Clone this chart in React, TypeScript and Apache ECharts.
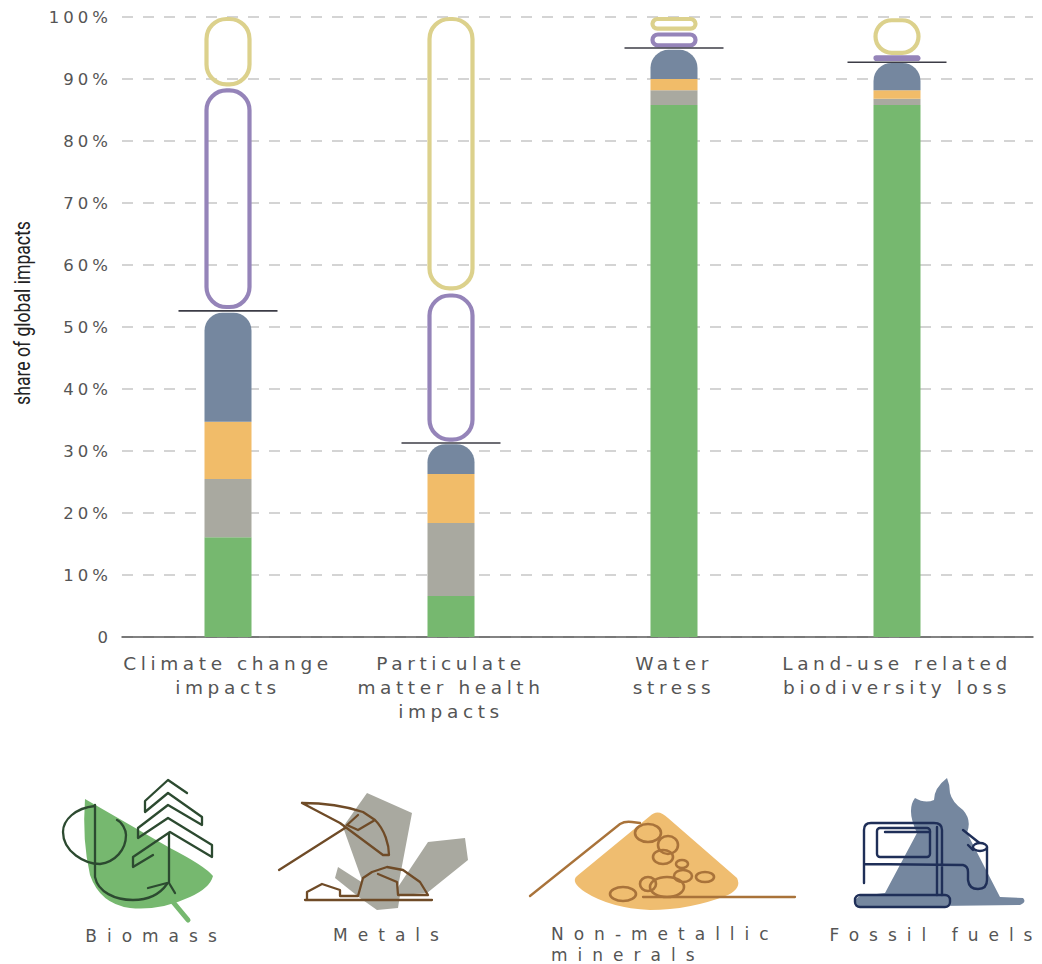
import React, { useEffect, useRef } from "react";
import * as echarts from "echarts";

const categories = [
  "Climate change\nimpacts",
  "Particulate\nmatter health\nimpacts",
  "Water\nstress",
  "Land-use related\nbiodiversity loss",
];
const biomass = [16.1, 6.6, 85.8, 85.8];
const metals = [9.4, 11.8, 2.4, 1.0];
const minerals = [9.2, 7.9, 1.8, 1.4];
const fossil = [17.6, 4.8, 4.7, 4.4];
const totals = [52.6, 31.3, 95.0, 92.7];
const purpleBands = [[52.9, 88.5], [31.5, 55.4], [95.1, 97.5], [92.9, 93.8]];
const yellowBands = [[88.8, 100], [55.9, 100], [97.8, 100], [93.9, 99.8]];

const GREEN = "#76b86f";
const GREY = "#a9a9a0";
const ORANGE = "#f1bc69";
const BLUE = "#75879f";
const PURPLE = "#9584b9";
const YELLOW = "#dcd18c";

const shapes: Record<string, string> = {
  leaf: "M85 799 L170 848 Q205 866 213 876 Q210 888 190 897 Q160 911 130 908 Q100 904 90 875 Q82 840 85 799Z",
  stem: "M173 902 L188 920",
  loop: "M95 806 C75 808 63 820 63 832 C63 852 85 864 100 864 C115 862 126 850 126 835 C126 830 122 822 117 820",
  hook: "M95 805 L95 877 C98 892 115 900 133 900 C148 900 160 894 167 884",
  trunk: "M169 833 L169 883 L175 893 M148 888 L167 883",
  chevrons: "M187 793 L168 780 L145 801 L145 812 L168 793 L202 817 L202 825 L168 805 L138 828 L138 838 L168 818 L212 845 L212 857 L170 832 L133 857 L133 867 L153 855",
  rock: "M367 793 L412 813 L398 887 L428 842 L465 838 L468 860 L427 893 L400 895 L398 908 L377 910 L360 898 L335 878 L338 867 L363 883 L343 827Z",
  pick: "M279 870 L345 828 M302 803 C325 803 345 806 363 812 L375 820 L358 830 L347 825 L358 815 M302 803 L340 823 L383 855 L389 855 C389 845 385 830 375 820",
  rocks: "M305 900 L432 900 M307 899 L307 892 L322 884 L340 890 L340 896 L358 896 L363 878 L372 872 L387 867 L403 870 L420 882 L428 895 L398 895 L397 882 L378 874",
  sand: "M650 816 Q658 808 668 818 L737 878 Q742 888 728 895 Q690 910 650 910 Q610 908 585 892 Q570 882 577 876Z",
  rope: "M530 896 L620 824 Q625 821 632 822 L640 823 M643 897 L795 897",
  flame: "M947 778 Q934 788 934 800 Q925 804 915 798 Q906 810 917 833 L885 893 L860 896 Q853 900 855 905 L860 907 L1020 905 Q1027 902 1023 898 L1000 897 L967 833 Q972 820 963 810 Q952 802 950 793 Q950 785 947 778Z",
  pump: "M864 883 L864 830 Q864 823 871 823 L934 823 Q942 823 942 830 L942 895 M937 827 L937 895 M864 864 L963 865 Q968 866 968 872 L968 880 Q969 889 978 889 Q987 889 987 880 L987 847 M885 832 L930 832 M963 830 L982 845 M968 845 L973 850",
};
Object.keys(shapes).forEach((k) =>
  echarts.graphic.registerShape("icon_" + k, echarts.graphic.extendPath(shapes[k], {}))
);

const solid = (k: string, fill: string) => ({ type: "icon_" + k, x: 0, y: 0, style: { fill } });
const stroke = (k: string, color: string, lineWidth = 2.3) => ({
  type: "icon_" + k,
  x: 0,
  y: 0,
  style: { fill: "none", stroke: color, lineWidth, lineJoin: "round", lineCap: "round" },
});
const ell = (cx: number, cy: number, rx: number, ry: number) => ({
  type: "ellipse",
  shape: { cx, cy, rx, ry },
  style: { fill: "none", stroke: "#a9733a", lineWidth: 2.6 },
});
const label = (text: string, x: number, y: number, textAlign = "center") => ({
  type: "text",
  x,
  y,
  style: { text, fill: "#555", font: "17px 'DejaVu Sans'", textAlign, textVerticalAlign: "middle" },
});

const DARK_GREEN = "#2c4a30";
const BROWN = "#6f4b27";
const NAVY = "#1f2f58";

const icons = [
  solid("leaf", GREEN),
  stroke("stem", GREEN, 5),
  stroke("loop", DARK_GREEN),
  stroke("hook", DARK_GREEN),
  stroke("trunk", DARK_GREEN),
  stroke("chevrons", DARK_GREEN),
  solid("rock", GREY),
  stroke("pick", BROWN),
  stroke("rocks", BROWN),
  solid("sand", "#efbd70"),
  stroke("rope", "#a9733a"),
  ell(648, 833, 13, 9),
  ell(668, 845, 10, 9),
  ell(663, 857, 10, 7),
  ell(682, 864, 6, 4),
  ell(683, 876, 9, 6),
  ell(705, 877, 9, 5),
  ell(648, 884, 8, 7),
  ell(667, 887, 17, 10),
  ell(623, 894, 13, 7),
  solid("flame", BLUE),
  stroke("pump", NAVY, 2.4),
  { type: "rect", shape: { x: 877, y: 828, width: 53, height: 29, r: 3 }, style: { fill: "none", stroke: NAVY, lineWidth: 2.4 } },
  { type: "rect", shape: { x: 855, y: 895, width: 95, height: 12, r: 5 }, style: { fill: "none", stroke: NAVY, lineWidth: 2.4 } },
  { type: "ellipse", shape: { cx: 980, cy: 847, rx: 7, ry: 4 }, style: { fill: "#fff", stroke: NAVY, lineWidth: 2.4 } },
  label("Biomass", 156, 936),
  label("Metals", 391, 935),
  label("Non-metallic", 551, 934, "left"),
  label("minerals", 551, 955, "left"),
  label("Fossil fuels", 936, 935),
  {
    type: "text",
    x: 23,
    y: 313,
    rotation: Math.PI / 2,
    scaleX: 0.8,
    style: { text: "share of global impacts", fill: "#222", font: "22px Roboto", textAlign: "center", textVerticalAlign: "middle" },
  },
];

const stackSeries = (name: string, data: number[], color: string, top = false) => ({
  name,
  type: "bar",
  stack: "share",
  xAxisIndex: 0,
  yAxisIndex: 0,
  barWidth: 47,
  data,
  itemStyle: { color, borderRadius: top ? [18, 18, 0, 0] : 0 },
});

const bandSeries = (name: string, bands: number[][], color: string) => ({
  name,
  type: "custom",
  xAxisIndex: 0,
  yAxisIndex: 0,
  z: 4,
  data: bands.map((b, i) => [i, b[0], b[1]]),
  encode: { x: 0, y: [1, 2] },
  renderItem: (_: any, api: any) => {
    const lo = api.coord([api.value(0), api.value(1)]);
    const hi = api.coord([api.value(0), api.value(2)]);
    return {
      type: "rect",
      shape: { x: lo[0] - 21.5, y: hi[1] + 2, width: 43, height: Math.max(lo[1] - hi[1] - 4, 1), r: 20 },
      style: { fill: "none", stroke: color, lineWidth: 4.2 },
    };
  },
});

export default function App() {
  const ref = useRef<HTMLDivElement>(null);
  useEffect(() => {
    const chart = echarts.init(ref.current!, undefined, { renderer: "svg" });
    chart.setOption({
      animation: false,
      backgroundColor: "#fff",
      grid: [
        { left: 116.5, width: 892, top: 17, height: 620 },
        { left: 122, width: 911, top: 17, height: 620 },
      ],
      xAxis: [
        {
          type: "category",
          gridIndex: 0,
          data: categories,
          axisLine: { show: false },
          axisTick: { show: false },
          axisLabel: { interval: 0, margin: 14, color: "#555", fontFamily: "DejaVu Sans", fontSize: 18.5, lineHeight: 24, verticalAlign: "top" },
        },
        {
          type: "value",
          gridIndex: 1,
          min: 0,
          max: 1,
          axisLine: { show: true, lineStyle: { color: "#5a5a5a", width: 1.5 } },
          axisTick: { show: false },
          axisLabel: { show: false },
          splitLine: { show: false },
        },
      ],
      yAxis: [
        { type: "value", gridIndex: 0, min: 0, max: 100, show: false },
        {
          type: "value",
          gridIndex: 1,
          min: 0,
          max: 100,
          interval: 10,
          axisLine: { show: false },
          axisTick: { show: false },
          axisLabel: {
            margin: 10,
            color: "#555",
            fontFamily: "DejaVu Sans",
            fontSize: 16.5,
            formatter: (v: number) => (v === 0 ? "0" : v + "%"),
          },
          splitLine: { show: true, lineStyle: { color: "#c6c6c6", width: 1.5, type: [11, 10] } },
        },
      ],
      series: [
        stackSeries("Biomass", biomass, GREEN),
        stackSeries("Metals", metals, GREY),
        stackSeries("Non-metallic minerals", minerals, ORANGE),
        stackSeries("Fossil fuels", fossil, BLUE, true),
        bandSeries("Purple band", purpleBands, PURPLE),
        bandSeries("Yellow band", yellowBands, YELLOW),
        {
          name: "Total",
          type: "custom",
          xAxisIndex: 0,
          yAxisIndex: 0,
          z: 5,
          data: totals.map((t, i) => [i, t]),
          encode: { x: 0, y: 1 },
          renderItem: (_: any, api: any) => {
            const p = api.coord([api.value(0), api.value(1)]);
            return {
              type: "line",
              shape: { x1: p[0] - 49.5, y1: p[1], x2: p[0] + 49.5, y2: p[1] },
              style: { stroke: "#3c3c46", lineWidth: 1.6 },
            };
          },
        },
      ],
      graphic: icons,
    });
    return () => chart.dispose();
  }, []);
  return (
    <>
      <style>{`
        svg text[style*="18.5px"] { letter-spacing: 4.6px; }
        svg text[style*="16.5px"] { letter-spacing: 4px; }
        svg text[style*="17px"] { letter-spacing: 10px; }
      `}</style>
      <div ref={ref} style={{ position: "fixed", left: 0, top: 0, width: 1042, height: 964 }} />
    </>
  );
}
